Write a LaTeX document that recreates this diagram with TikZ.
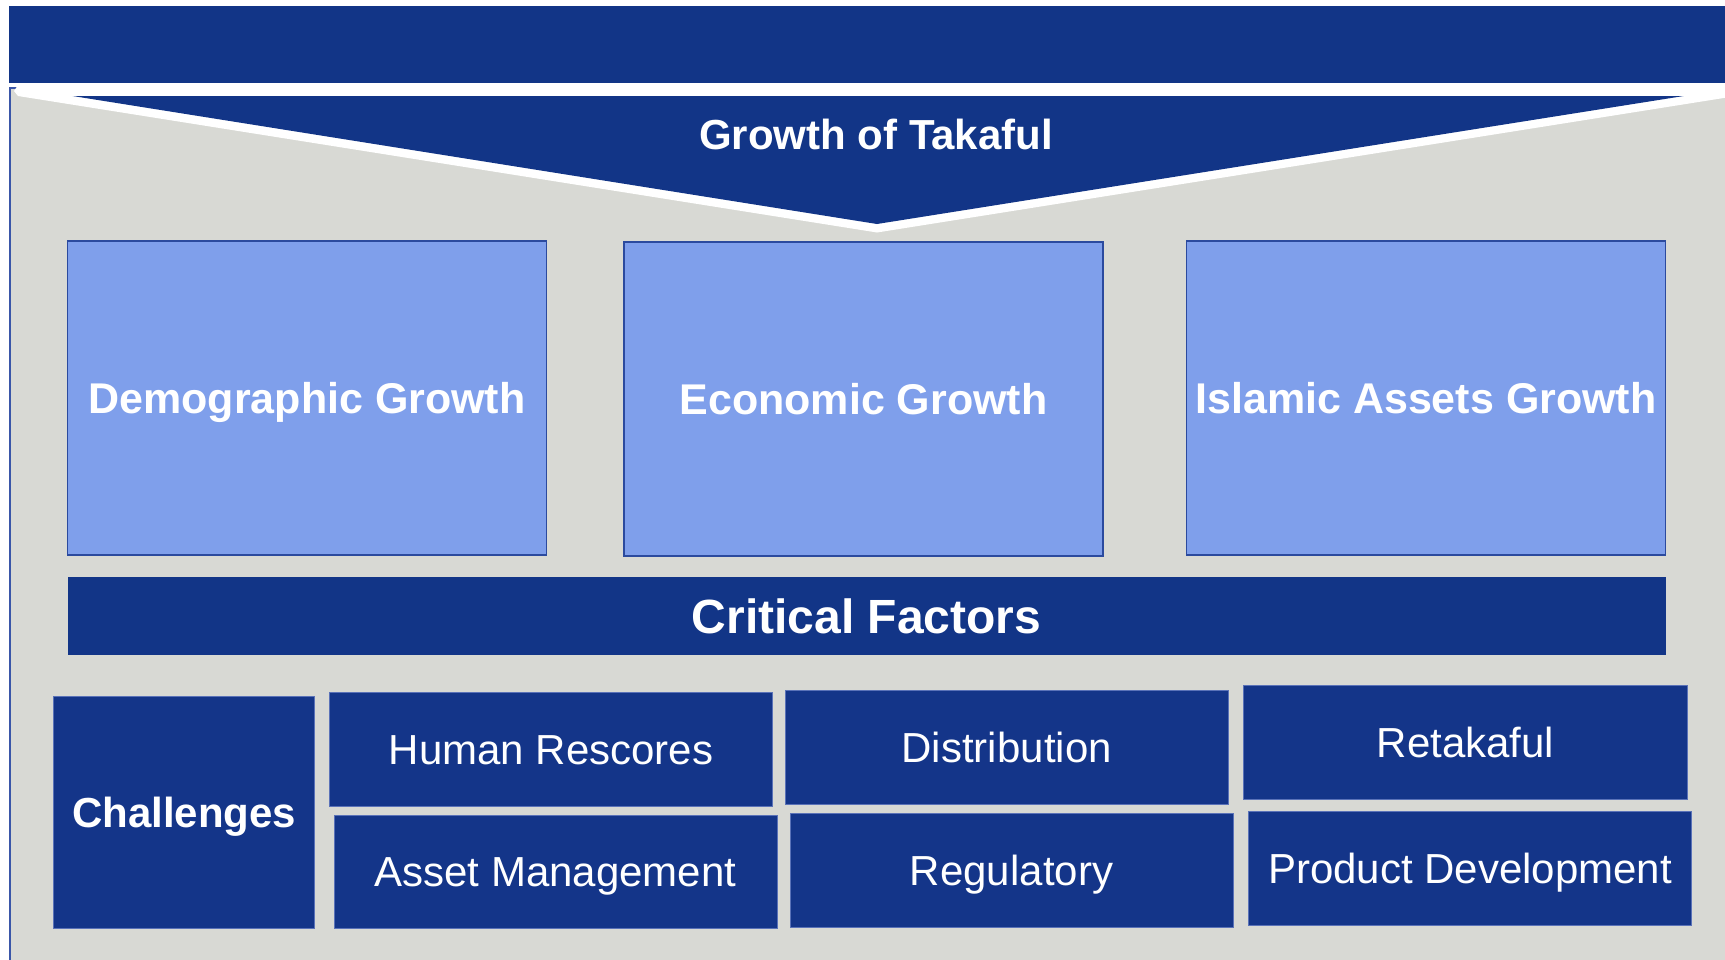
\documentclass[tikz,border=0pt]{standalone}
\usepackage{fontspec}
\setmainfont{Liberation Sans}
\definecolor{navy}{HTML}{123587}
\definecolor{navyb}{HTML}{143589}
\definecolor{lightb}{HTML}{7F9FEB}
\definecolor{lightedge}{HTML}{2B4A9E}
\definecolor{panel}{HTML}{D8D9D4}
\definecolor{paneledge}{HTML}{3A56A8}
\definecolor{boxedge}{HTML}{5A72B8}
\tikzset{
  growbox/.style={rectangle, fill=lightb, draw=lightedge, line width=1.5pt, inner sep=0pt,
    text=white, font=\fontsize{43}{50}\selectfont\bfseries, text height=30.8pt, text depth=0pt},
  factorbox/.style={rectangle, fill=navyb, draw=boxedge, line width=1pt, inner sep=0pt,
    text=white, font=\fontsize{42}{48}\selectfont, text height=30.1pt, text depth=0pt},
  headbar/.style={rectangle, fill=navy, draw=none, inner sep=0pt, text=white,
    font=\fontsize{48}{54}\selectfont\bfseries, text height=34.4pt, text depth=0pt}
}
\begin{document}
\begin{tikzpicture}[x=1pt,y=-1pt]
\useasboundingbox (0,0) rectangle (1725,959);
\fill[white] (0,0) rectangle (1725,959);
% top bar
\node[headbar, minimum width=1730pt, minimum height=77pt, anchor=north west] (topbar) at (9,6) {};
% grey panel
\filldraw[fill=panel, draw=paneledge, line width=1.5pt] (10,88) rectangle (1745,975);
% white outline of the chevron
\fill[white] (877,232.5) -- (18,96) -- (14,91) -- (17,86.5) -- (1730,86.5) -- (1730,97) -- cycle;
% chevron
\fill[navy] (72.7,96) -- (1683.7,96) -- (877,224) -- cycle;
\node[text=white, font=\fontsize{42}{48}\selectfont\bfseries, inner sep=0pt, text height=30.1pt, text depth=0pt] (title) at (876,134) {Growth of Takaful};
% growth boxes
\node[growbox, minimum width=479pt, minimum height=314pt] (demo) at (307,398) {Demographic Growth};
\node[growbox, minimum width=479pt, minimum height=314pt] (econ) at (863.4,399.2) {Economic Growth};
\node[growbox, minimum width=479pt, minimum height=314pt] (islam) at (1426,397.9) {Islamic Assets Growth};
% critical factors
\node[headbar, minimum width=1598pt, minimum height=77.7pt] (crit) at (866.5,615.9) {Critical Factors};
% challenges
\node[factorbox, minimum width=261pt, minimum height=232.7pt, font=\fontsize{42}{48}\selectfont\bfseries] (chal) at (184.2,812.4) {Challenges};
\node[factorbox, minimum width=442.8pt, minimum height=114pt] (human) at (551,749.5) {Human Rescores};
\node[factorbox, minimum width=443pt, minimum height=113.7pt] (asset) at (555.5,871.9) {Asset Management};
\node[factorbox, minimum width=443.3pt, minimum height=114pt] (dist) at (1006.7,747) {Distribution};
\node[factorbox, minimum width=443pt, minimum height=113.6pt] (reg) at (1011.5,870.5) {Regulatory};
\node[factorbox, minimum width=444pt, minimum height=114pt] (reta) at (1465.6,742.3) {Retakaful};
\node[factorbox, minimum width=443.5pt, minimum height=113.6pt] (prod) at (1470,868.5) {Product Development};
\end{tikzpicture}
\end{document}
